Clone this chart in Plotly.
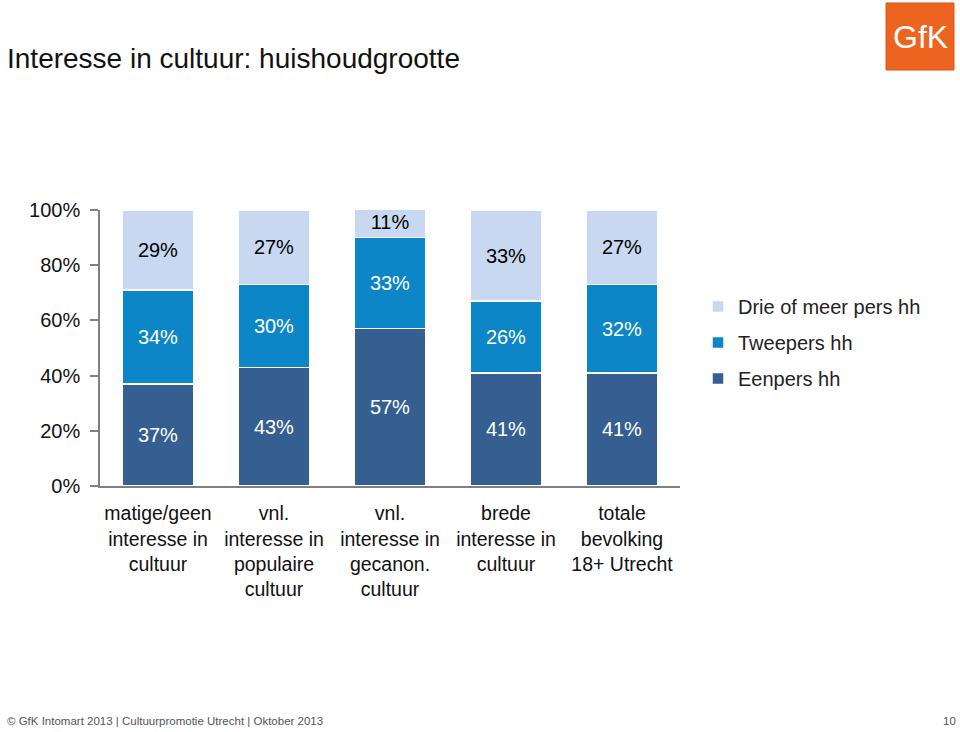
import plotly.graph_objects as go

categories = [
    "matige/geen<br>interesse in<br>cultuur",
    "vnl.<br>interesse in<br>populaire<br>cultuur",
    "vnl.<br>interesse in<br>gecanon.<br>cultuur",
    "brede<br>interesse in<br>cultuur",
    "totale<br>bevolking<br>18+ Utrecht",
]
eenpers = [37, 43, 57, 41, 41]
tweepers = [34, 30, 33, 26, 32]
drie_of_meer = [29, 27, 11, 33, 27]

series = [
    ("Eenpers hh", eenpers, "#355F91", "white", 3),
    ("Tweepers hh", tweepers, "#0C86C6", "white", 2),
    ("Drie of meer pers hh", drie_of_meer, "#C7D8F0", "black", 1),
]

FONT = "Arial, Liberation Sans, sans-serif"

fig = go.Figure()
for i, (name, vals, color, tcol, rank) in enumerate(series):
    fig.add_trace(go.Bar(
        name=name,
        legendgroup=f"g{i}",
        legendrank=rank,
        x=categories,
        y=vals,
        text=[f"{v}%" for v in vals],
        textposition="inside",
        insidetextanchor="middle",
        constraintext="none",
        textangle=0,
        insidetextfont=dict(family=FONT, size=20, color=tcol),
        marker=dict(color=color, line=dict(color="white", width=1.5)),
        hoverinfo="skip",
    ))

fig.update_layout(
    barmode="stack",
    bargap=0.39,
    width=960,
    height=732,
    paper_bgcolor="white",
    plot_bgcolor="white",
    margin=dict(l=100, r=280, t=210, b=246, autoexpand=False),
    font=dict(family=FONT, size=20, color="#111111"),
    showlegend=True,
    legend=dict(
        x=(698 - 100) / 580, y=1 - (287 - 210) / 276, xanchor="left", yanchor="top",
        traceorder="grouped",
        font=dict(family=FONT, size=20, color="#222222"),
        itemwidth=30,
        tracegroupgap=7,
        bgcolor="rgba(0,0,0,0)",
    ),
    xaxis=dict(
        showline=True, linecolor="#808080", linewidth=1.5,
        ticks="", showgrid=False,
        tickfont=dict(family=FONT, size=19.5, color="#111111"),
        ticklabelstandoff=9,
    ),
    yaxis=dict(
        range=[0, 100],
        tickvals=[0, 20, 40, 60, 80, 100],
        ticktext=["0%", "20%", "40%", "60%", "80%", "100%"],
        showline=True, linecolor="#808080", linewidth=1.5,
        ticks="outside", ticklen=8, tickcolor="#808080", tickwidth=1.5,
        showgrid=False, zeroline=False,
        tickfont=dict(family=FONT, size=20, color="#111111"),
        ticklabelstandoff=6,
    ),
)

# Title
fig.add_annotation(
    text="Interesse in cultuur: huishoudgrootte",
    xref="paper", yref="paper", x=-95/580, y=1 + (210 - 58) / 276,
    xanchor="left", yanchor="middle", showarrow=False,
    font=dict(family=FONT, size=28, color="#111111"),
)

# Logo
fig.add_shape(
    type="rect", xref="paper", yref="paper",
    x0=(886 - 100) / 580, x1=(954 - 100) / 580,
    y0=1 + (210 - 70) / 276, y1=1 + (210 - 3) / 276,
    fillcolor="#EC6420", line=dict(color="#D9541A", width=1), layer="above",
)
fig.add_annotation(
    text="GfK", xref="paper", yref="paper",
    x=(920 - 100) / 580, y=1 + (210 - 37) / 276,
    xanchor="center", yanchor="middle", showarrow=False,
    font=dict(family=FONT, size=32, color="white"),
)

# Footer
fig.add_annotation(
    text="© GfK Intomart 2013 | Cultuurpromotie Utrecht | Oktober 2013",
    xref="paper", yref="paper", x=-95/580, y=-(721 - 486) / 276,
    xanchor="left", yanchor="middle", showarrow=False,
    font=dict(family=FONT, size=11.5, color="#555555"),
)
fig.add_annotation(
    text="10",
    xref="paper", yref="paper", x=(958 - 100) / 580, y=-(721 - 486) / 276,
    xanchor="right", yanchor="middle", showarrow=False,
    font=dict(family=FONT, size=11.5, color="#555555"),
)

fig.write_html(
    "out.html",
    config={"displayModeBar": False},
    post_script="document.body.style.margin='0';document.body.style.overflow='hidden';",
)
